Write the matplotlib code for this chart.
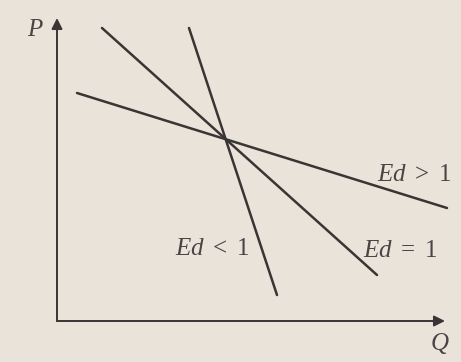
import matplotlib
matplotlib.use('Agg')
import matplotlib.pyplot as plt

# demand curves with different elasticities, endpoints in (Q, P) units
labels = [r'$Ed\ >\ 1$', r'$Ed\ =\ 1$', r'$Ed\ <\ 1$']
q_start = [2.0, 4.5, 13.2]
p_start = [22.8, 29.3, 29.3]
q_end = [39.0, 32.0, 22.0]
p_end = [11.3, 4.6, 2.6]
# where each label sits (left, baseline)
label_q = [32.0, 30.6, 11.8]
label_p = [14.0, 6.4, 6.6]

Q_MAX, P_MAX = 38.8, 30.3
BG, INK = '#e9e3da', '#3a3535'

plt.rcParams['mathtext.fontset'] = 'custom'
plt.rcParams['mathtext.rm'] = 'Liberation Serif'
plt.rcParams['mathtext.it'] = 'Liberation Serif:italic'

fig = plt.figure(figsize=(4.61, 3.62), dpi=100, facecolor=BG)
ax = fig.add_axes([0, 0, 1, 1])
ax.set_facecolor(BG)
ax.set_xlim(-5.7, 40.4); ax.set_ylim(-4.1, 32.1)
ax.axis('off')

# axes with arrowheads
arrow = dict(arrowstyle='-|>', lw=1.4, color=INK, mutation_scale=16, shrinkA=0, shrinkB=0)
ax.annotate('', xy=(Q_MAX, 0), xytext=(0, 0), arrowprops=arrow)
ax.annotate('', xy=(0, P_MAX), xytext=(0, 0), arrowprops=arrow)

for a, b, c, d in zip(q_start, p_start, q_end, p_end):
    ax.plot([a, c], [b, d], color=INK, lw=1.8, solid_capstyle='round')

for lab, x, y in zip(labels, label_q, label_p):
    ax.text(x, y, lab, fontsize=18, color='#4a4545', ha='left', va='baseline')

ax.text(-3.0, 28.5, r'$P$', fontsize=18, color='#4a4545', va='baseline')
ax.text(37.3, -2.9, r'$Q$', fontsize=18, color='#4a4545', va='baseline')

fig.savefig('out.png', dpi=100, facecolor=BG)
